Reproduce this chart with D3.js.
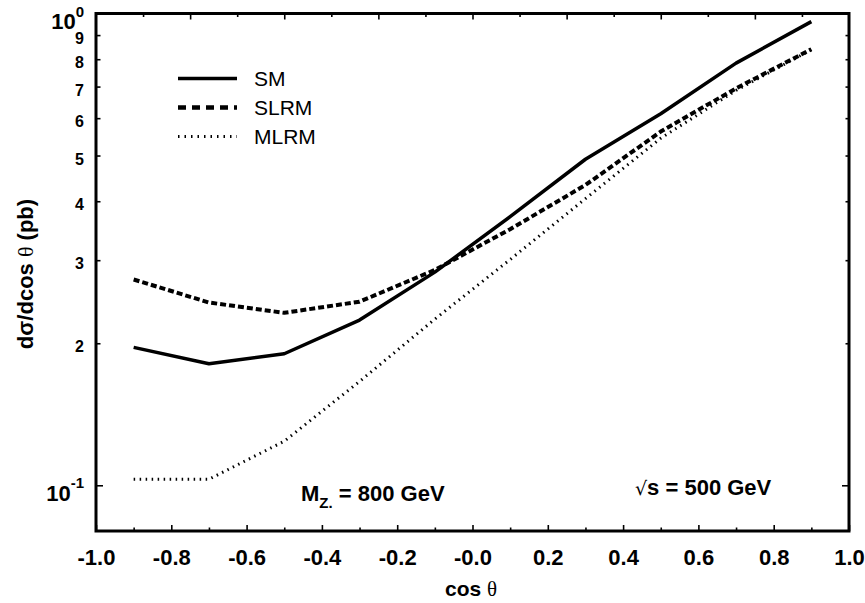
<!DOCTYPE html>
<html>
<head>
<meta charset="utf-8">
<script src="https://cdn.jsdelivr.net/npm/d3@7"></script>
<style>
  html, body { margin: 0; padding: 0; background: #fff; }
  svg { display: block; font-family: "Liberation Sans", Arial, sans-serif; }
</style>
</head>
<body>
<svg id="chart" width="865" height="603"></svg>
<script>
// ---- data ----
const cosTheta   = [-0.9, -0.7, -0.5, -0.3, -0.1, 0.1, 0.3, 0.5, 0.7, 0.9];
const smValues   = [0.196, 0.181, 0.190, 0.224, 0.283, 0.371, 0.491, 0.613, 0.785, 0.961];
const slrmValues = [0.273, 0.244, 0.232, 0.245, 0.286, 0.349, 0.433, 0.562, 0.694, 0.840];
const mlrmValues = [0.103, 0.103, 0.124, 0.166, 0.225, 0.301, 0.405, 0.544, 0.687, 0.838];
const seriesNames = ["SM", "SLRM", "MLRM"];

const xTickValues = [-1.0, -0.8, -0.6, -0.4, -0.2, 0.0, 0.2, 0.4, 0.6, 0.8, 1.0];
const xTickLabels = ["-1.0", "-0.8", "-0.6", "-0.4", "-0.2", "-0.0", "0.2", "0.4", "0.6", "0.8", "1.0"];
const xMinorTicks = [-0.9, -0.7, -0.5, -0.3, -0.1, 0.1, 0.3, 0.5, 0.7, 0.9];
const xTopMajor = [-0.75, -0.5, -0.25, 0.0, 0.25, 0.5, 0.75];
const xTopMinor = [-0.875, -0.625, -0.375, -0.125, 0.125, 0.375, 0.625, 0.875];
const yTickValues = [0.1, 0.2, 0.3, 0.4, 0.5, 0.6, 0.7, 0.8, 0.9, 1.0];
const yTickLabels = ["10^-1", "2", "3", "4", "5", "6", "7", "8", "9", "10^0"];

// ---- scales ----
const svg = d3.select("#chart");
const x = d3.scaleLinear().domain([-1, 1]).range([96, 849]);
const y = d3.scaleLog().domain([0.08, 1.0]).range([531, 13.5]);

const x0 = x(-1), x1 = x(1), yb = y(0.08), yt = y(1.0);

// ---- axes ----
function styleAxis(g) {
  g.select(".domain").remove();
  g.selectAll("line").attr("stroke", "#000").attr("stroke-width", 1.6);
}

// bottom major
const gB = svg.append("g").attr("transform", `translate(0,${yb})`)
  .call(d3.axisBottom(x).tickValues(xTickValues)
    .tickFormat((d, i) => xTickLabels[i]).tickSize(-6).tickPadding(18))
  .call(styleAxis);
gB.selectAll("text").attr("font-size", 22).attr("font-weight", "bold")
  .attr("fill", "#000").attr("font-family", "Liberation Sans, Arial, sans-serif");
// bottom minor
svg.append("g").attr("transform", `translate(0,${yb})`)
  .call(d3.axisBottom(x).tickValues(xMinorTicks).tickFormat("").tickSize(-3.5))
  .call(styleAxis);
// top
svg.append("g").attr("transform", `translate(0,${yt})`)
  .call(d3.axisTop(x).tickValues(xTopMajor).tickFormat("").tickSize(-6))
  .call(styleAxis);
svg.append("g").attr("transform", `translate(0,${yt})`)
  .call(d3.axisTop(x).tickValues(xTopMinor).tickFormat("").tickSize(-3.5))
  .call(styleAxis);

// left
const gL = svg.append("g").attr("transform", `translate(${x0},0)`)
  .call(d3.axisLeft(y).tickValues(yTickValues)
    .tickFormat((d, i) => yTickLabels[i]).tickSize(-5).tickPadding(12))
  .call(styleAxis);
gL.selectAll(".tick line").attr("x2", d => (d === 0.1 || d === 1.0) ? 7 : 4.5);
gL.selectAll("text").attr("font-size", 16).attr("font-weight", "bold")
  .attr("fill", "#000").attr("font-family", "Liberation Sans, Arial, sans-serif")
  .attr("dy", 8.5)
  .each(function(d, i) {
    const lab = yTickLabels[i];
    if (lab.indexOf("^") >= 0) {
      const [base, exp] = lab.split("^");
      const t = d3.select(this).text(null).attr("dy", 15);
      t.append("tspan").attr("font-size", 22).text(base);
      t.append("tspan").attr("font-size", 15).attr("dy", -12.5).text(exp);
    }
  });
// right
const gR = svg.append("g").attr("transform", `translate(${x1},0)`)
  .call(d3.axisRight(y).tickValues(yTickValues).tickFormat("").tickSize(-3.5))
  .call(styleAxis);
gR.selectAll(".tick line").attr("x2", d => (d === 0.1 || d === 1.0) ? -7 : -3.5);

// frame
svg.append("rect").attr("x", x0).attr("y", yt).attr("width", x1 - x0).attr("height", yb - yt)
  .attr("fill", "none").attr("stroke", "#000").attr("stroke-width", 3);

// ---- lines ----
const styles = [
  { w: 3.5, dash: null },
  { w: 4, dash: "6,3" },
  { w: 3, dash: "1.5,4.5" }
];
const seriesData = [smValues, slrmValues, mlrmValues];
const line = d3.line().x((d, i) => x(cosTheta[i])).y(d => y(d));
seriesData.forEach((vals, k) => {
  svg.append("path").datum(vals).attr("d", line)
    .attr("fill", "none").attr("stroke", "#000")
    .attr("stroke-width", styles[k].w)
    .attr("stroke-dasharray", styles[k].dash)
    .attr("stroke-linejoin", "round");
});

// ---- legend ----
const legY = [78.5, 107.5, 136.5];
const legDash = [null, "8,6", "1.5,5"];
const legW = [3.5, 4.5, 3];
seriesNames.forEach((name, k) => {
  svg.append("line").attr("x1", 178).attr("x2", 237).attr("y1", legY[k]).attr("y2", legY[k])
    .attr("stroke", "#000").attr("stroke-width", legW[k]).attr("stroke-dasharray", legDash[k]);
  svg.append("text").attr("x", 254).attr("y", legY[k] + 7.5)
    .attr("font-size", 21).attr("fill", "#000").text(name);
});

// ---- annotations ----
const mz = svg.append("text").attr("x", 301).attr("y", 501)
  .attr("font-size", 22).attr("font-weight", "bold").attr("fill", "#000");
mz.append("tspan").text("M");
mz.append("tspan").attr("font-size", 15).attr("dy", 7).text("Z.");
mz.append("tspan").attr("dy", -7).text(" = 800 GeV");

const rs = svg.append("text").attr("x", 635).attr("y", 495)
  .attr("font-size", 22).attr("font-weight", "bold").attr("fill", "#000");
rs.append("tspan").attr("font-weight", "normal").attr("font-family", "DejaVu Sans, sans-serif")
  .attr("font-size", 19).text("√");
rs.append("tspan").text("s = 500 GeV");

// axis titles
const xt = svg.append("text").attr("x", 471).attr("y", 596).attr("text-anchor", "middle")
  .attr("font-size", 21).attr("font-weight", "bold").attr("fill", "#000");
xt.append("tspan").text("cos ");
xt.append("tspan").attr("font-weight", "normal").attr("font-family", "Liberation Serif, serif").text("θ");

const yl = svg.append("text").attr("transform", "translate(33,274) rotate(-90)")
  .attr("text-anchor", "middle").attr("font-size", 22).attr("font-weight", "bold").attr("fill", "#000");
yl.append("tspan").text("dσ/dcos ");
yl.append("tspan").attr("font-weight", "normal").attr("font-family", "Liberation Serif, serif").text("θ");
yl.append("tspan").text(" (pb)");
</script>
</body>
</html>
